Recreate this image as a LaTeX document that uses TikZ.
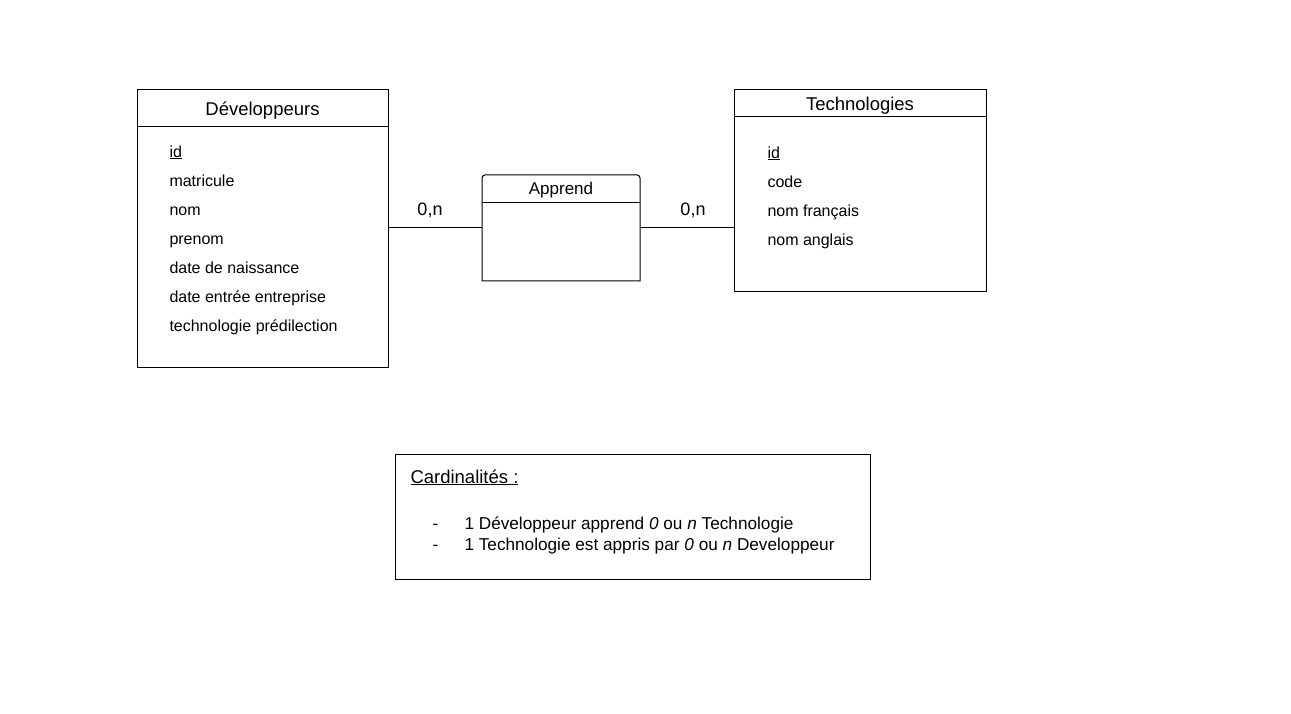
\documentclass[tikz,border=0pt]{standalone}
\usepackage{fontspec}
\setmainfont{Liberation Sans}
\begin{document}
\begin{tikzpicture}[x=1pt,y=-1pt,line width=1pt,
  boxst/.style={draw,rectangle,anchor=north west,inner sep=0pt,outer sep=0pt},
  txtbase/.style={inner sep=0pt,text height=0.72em,text depth=0.21em,yshift=-3.5pt},
  titlest/.style={txtbase,font=\fontsize{18.5}{21}\selectfont},
  lblst/.style={txtbase,font=\fontsize{18}{21}\selectfont},
  smtitlest/.style={txtbase,font=\fontsize{17}{20}\selectfont},
  attrst/.style={txtbase,font=\fontsize{16}{19}\selectfont,anchor=west},
  cardst/.style={txtbase,font=\fontsize{17.2}{20}\selectfont,anchor=west},
  cardtitlest/.style={txtbase,font=\fontsize{18.5}{21}\selectfont,anchor=west}]
\useasboundingbox (0,0) rectangle (1291,714);
% Developpeurs
\node[boxst,minimum width=251pt,minimum height=277pt] (dev) at (137,90) {};
\draw (137,127) -- (388,127);
\node[titlest] (devt) at (262.5,109) {Développeurs};
\node[attrst] (d1) at (169,151) {\underline{id}};
\node[attrst] (d2) at (169,180) {matricule};
\node[attrst] (d3) at (169,209) {nom};
\node[attrst] (d4) at (169,238) {prenom};
\node[attrst] (d5) at (169,267) {date de naissance};
\node[attrst] (d6) at (169,296) {date entrée entreprise};
\node[attrst] (d7) at (169,325) {technologie prédilection};
% Apprend
\node[rectangle,anchor=north west,inner sep=0pt,outer sep=0pt,minimum width=158pt,minimum height=106pt] (app) at (482,175) {};
\draw (app.south west) [rounded corners=3pt] -- (app.north west) -- (app.north east) [sharp corners] -- (app.south east) -- cycle;
\draw (482,203) -- (640,203);
\node[smtitlest] (appt) at (561,188) {Apprend};
% Technologies
\node[boxst,minimum width=252pt,minimum height=201pt] (tech) at (734,90) {};
\draw (734,117) -- (986,117);
\node[titlest] (techt) at (860,104) {Technologies};
\node[attrst] (t1) at (767,152) {\underline{id}};
\node[attrst] (t2) at (767,181) {code};
\node[attrst] (t3) at (767,210) {nom français};
\node[attrst] (t4) at (767,239) {nom anglais};
% connectors
\draw (app.west) -- (app.west -| dev.east);
\draw (app.east) -- (app.east -| tech.west);
\node[lblst] (c1) at (430,209) {0,n};
\node[lblst] (c2) at (693,209) {0,n};
% Cardinalites
\node[boxst,minimum width=475pt,minimum height=125pt] (card) at (395,454) {};
\node[cardtitlest] (ct) at (410,477) {\underline{Cardinalités :}};
\node[cardst] (b1) at (432,523) {-};
\node[cardst] (l1) at (464,523) {1 Développeur apprend \textit{0} ou \textit{n} Technologie};
\node[cardst] (b2) at (432,544) {-};
\node[cardst] (l2) at (464,544) {1 Technologie est appris par \textit{0} ou \textit{n} Developpeur};
\end{tikzpicture}
\end{document}
